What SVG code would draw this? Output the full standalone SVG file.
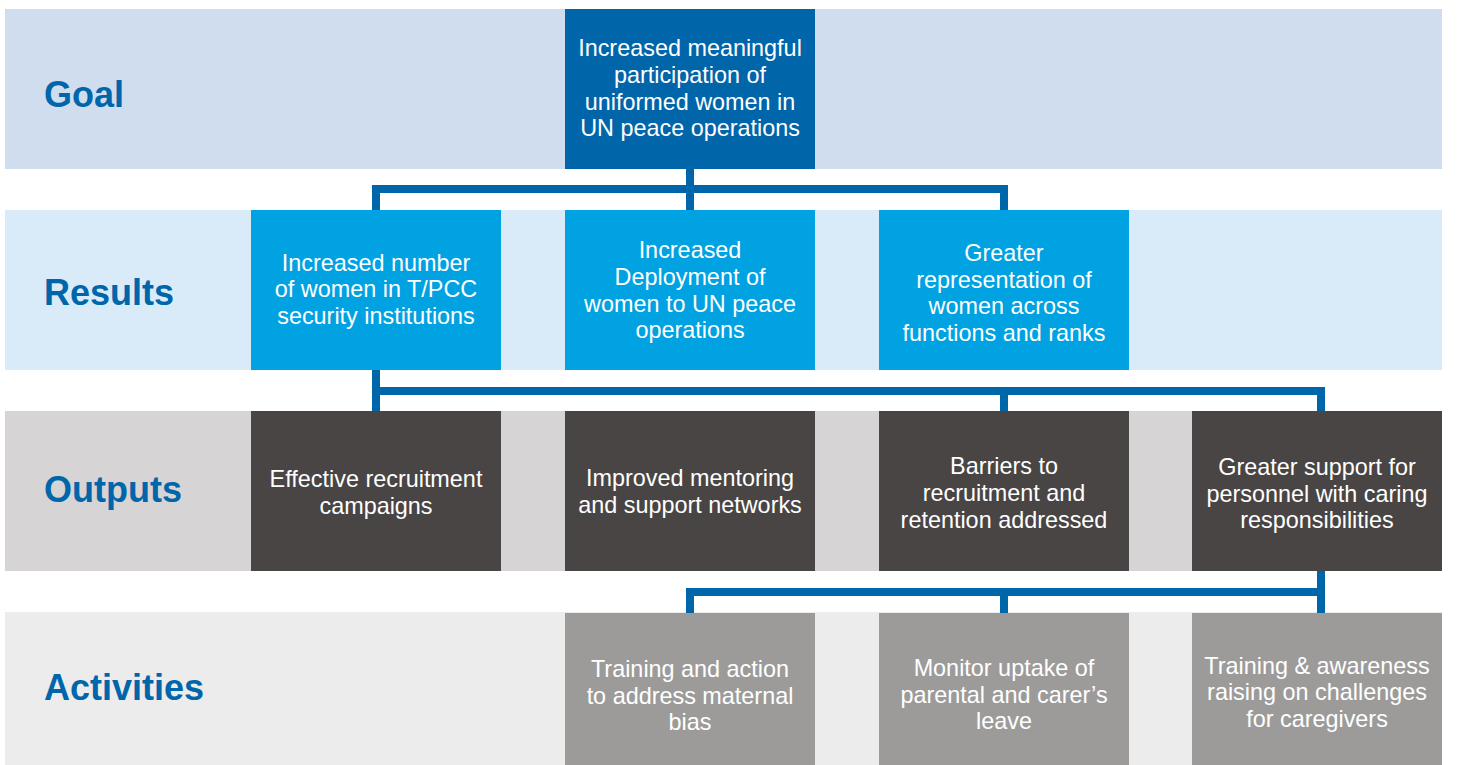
<svg xmlns="http://www.w3.org/2000/svg" width="1458" height="765" viewBox="0 0 1458 765">
<style>
.lbl{font-family:"Liberation Sans",Arial,sans-serif;font-weight:bold;font-size:36px;fill:#0066aa}
.t{font-family:"Liberation Sans",Arial,sans-serif;font-size:23.4px;fill:#ffffff;text-anchor:middle}
.con{fill:none;stroke:#0066aa;stroke-width:8;stroke-linejoin:miter}
</style>
<rect width="1458" height="765" fill="#ffffff"/>
<g id="bands">
<rect x="5" y="9" width="1437" height="160" fill="#d0ddef"/>
<rect x="5" y="210" width="1437" height="160" fill="#d9ebf9"/>
<rect x="5" y="411" width="1437" height="160" fill="#d6d4d5"/>
<rect x="5" y="612" width="1437" height="153" fill="#ececec"/>
<text class="lbl" x="44" y="107">Goal</text>
<text class="lbl" x="44" y="305">Results</text>
<text class="lbl" x="44" y="502">Outputs</text>
<text class="lbl" x="44" y="700">Activities</text>
</g>
<g id="connectors">
<path class="con" d="M690 168 V210"/>
<path class="con" d="M376 210 V189 H1004 V210"/>
<path class="con" d="M376 369 V411"/>
<path class="con" d="M372 391 H1321 V411"/>
<path class="con" d="M1004 391 V411"/>
<path class="con" d="M1321 570 V613"/>
<path class="con" d="M690 613 V592 H1325"/>
<path class="con" d="M1004 592 V613"/>
</g>
<g id="goal">
<rect x="565" y="9" width="250" height="160" fill="#0065a9"/>
<text class="t" x="690" y="56">Increased meaningful</text>
<text class="t" x="690" y="83">participation of</text>
<text class="t" x="690" y="110">uniformed women in</text>
<text class="t" x="690" y="136">UN peace operations</text>
</g>
<g id="result1">
<rect x="251" y="210" width="250" height="160" fill="#00a2e1"/>
<text class="t" x="376" y="271">Increased number</text>
<text class="t" x="376" y="297">of women in T/PCC</text>
<text class="t" x="376" y="324">security institutions</text>
</g>
<g id="result2">
<rect x="565" y="210" width="250" height="160" fill="#00a2e1"/>
<text class="t" x="690" y="258">Increased</text>
<text class="t" x="690" y="285">Deployment of</text>
<text class="t" x="690" y="312">women to UN peace</text>
<text class="t" x="690" y="338">operations</text>
</g>
<g id="result3">
<rect x="879" y="210" width="250" height="160" fill="#00a2e1"/>
<text class="t" x="1004" y="261">Greater</text>
<text class="t" x="1004" y="288">representation of</text>
<text class="t" x="1004" y="314">women across</text>
<text class="t" x="1004" y="341">functions and ranks</text>
</g>
<g id="output1">
<rect x="251" y="411" width="250" height="160" fill="#494544"/>
<text class="t" x="376" y="487">Effective recruitment</text>
<text class="t" x="376" y="514">campaigns</text>
</g>
<g id="output2">
<rect x="565" y="411" width="250" height="160" fill="#494544"/>
<text class="t" x="690" y="486">Improved mentoring</text>
<text class="t" x="690" y="513">and support networks</text>
</g>
<g id="output3">
<rect x="879" y="411" width="250" height="160" fill="#494544"/>
<text class="t" x="1004" y="474">Barriers to</text>
<text class="t" x="1004" y="501">recruitment and</text>
<text class="t" x="1004" y="528">retention addressed</text>
</g>
<g id="output4">
<rect x="1192" y="411" width="250" height="160" fill="#494544"/>
<text class="t" x="1317" y="475">Greater support for</text>
<text class="t" x="1317" y="502">personnel with caring</text>
<text class="t" x="1317" y="528">responsibilities</text>
</g>
<g id="activity1">
<rect x="565" y="613" width="250" height="152" fill="#9c9b9a"/>
<text class="t" x="690" y="677">Training and action</text>
<text class="t" x="690" y="704">to address maternal</text>
<text class="t" x="690" y="730">bias</text>
</g>
<g id="activity2">
<rect x="879" y="613" width="250" height="152" fill="#9c9b9a"/>
<text class="t" x="1004" y="676">Monitor uptake of</text>
<text class="t" x="1004" y="703">parental and carer’s</text>
<text class="t" x="1004" y="729">leave</text>
</g>
<g id="activity3">
<rect x="1192" y="613" width="250" height="152" fill="#9c9b9a"/>
<text class="t" x="1317" y="674">Training &amp; awareness</text>
<text class="t" x="1317" y="700">raising on challenges</text>
<text class="t" x="1317" y="727">for caregivers</text>
</g>
</svg>
